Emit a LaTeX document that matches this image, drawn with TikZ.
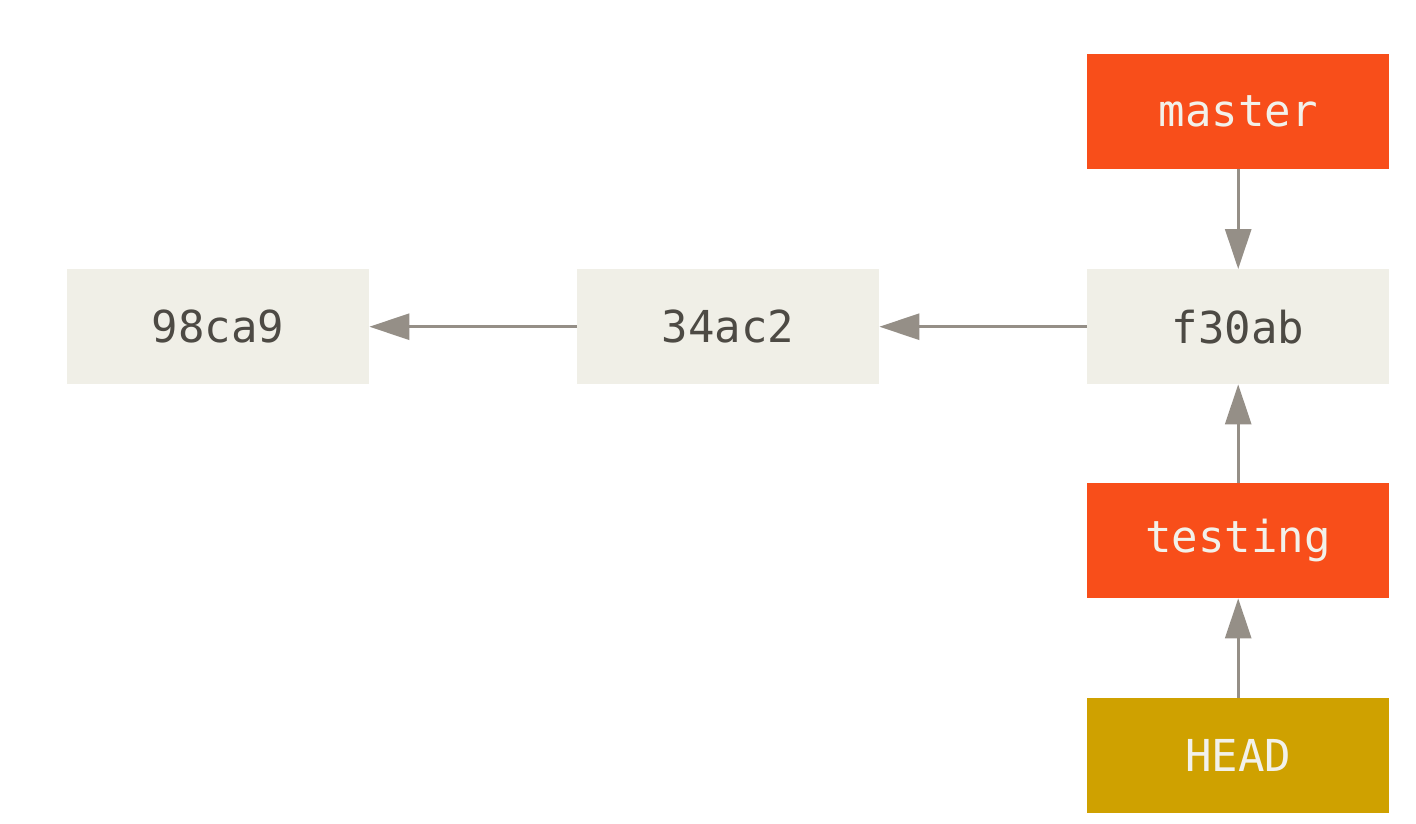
\documentclass[tikz,border=0pt]{standalone}
\usepackage{fontspec}
\setmonofont{DejaVu Sans Mono}
\usetikzlibrary{arrows.meta}
\definecolor{commitfill}{HTML}{F0EFE7}
\definecolor{committext}{HTML}{4D4A44}
\definecolor{branchred}{HTML}{F84E1A}
\definecolor{headgold}{HTML}{CFA100}
\definecolor{labeltext}{HTML}{F2F1EA}
\definecolor{linkgray}{HTML}{958F87}
\begin{document}
\begin{tikzpicture}[x=1pt,y=-1pt,
  box/.style={minimum width=302pt,minimum height=115pt,inner sep=0pt,anchor=north west,
    font=\ttfamily\fontsize{44}{50}\selectfont},
  commit/.style={box,fill=commitfill,text=committext},
  branch/.style={box,fill=branchred,text=labeltext},
  headref/.style={box,fill=headgold,text=labeltext},
  link/.style={draw=linkgray,line width=3pt,-{Triangle[length=40pt,width=26pt]}}]
\useasboundingbox (0,0) rectangle (1416,823);
\node[commit] (c1) at (67,269) {98ca9};
\node[commit] (c2) at (577,269) {34ac2};
\node[commit] (c3) at (1087,269) {f30ab};
\node[branch] (master) at (1087,54) {master};
\node[branch] (testing) at (1087,483) {testing};
\node[headref] (head) at (1087,698) {HEAD};
\draw[link] (c2) -- (c1);
\draw[link] (c3) -- (c2);
\draw[link] (master) -- (c3);
\draw[link] (testing) -- (c3);
\draw[link] (head) -- (testing);
\end{tikzpicture}
\end{document}
